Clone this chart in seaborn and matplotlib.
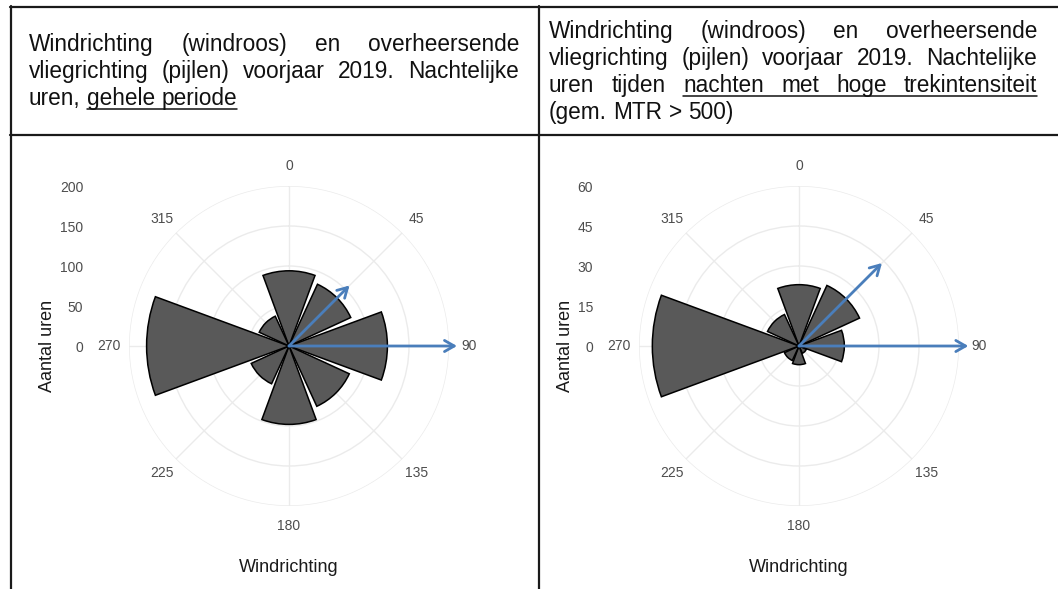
import numpy as np
import pandas as pd
import matplotlib
matplotlib.use("Agg")
import matplotlib.pyplot as plt
import seaborn as sns
from matplotlib.lines import Line2D

# ---------------- data ----------------
directions = [0, 45, 90, 135, 180, 225, 270, 315]
theta_labels = ["0", "45", "90", "135", "180", "225", "270", "315"]
uren_geheel = [94, 85, 123, 83, 98, 52, 178, 41]
uren_hoog = [23, 25, 17, 3, 7, 6, 55, 13]
pijl_richting = [45, 90]
pijl_lengte_geheel = [107, 210]
pijl_lengte_hoog = [44, 63.5]
r_ticks_geheel = [0, 50, 100, 150, 200]
r_ticks_hoog = [0, 15, 30, 45, 60]

kop_links = [
    (["Windrichting", "(windroos)", "en", "overheersende"], True, None),
    (["vliegrichting", "(pijlen)", "voorjaar", "2019.", "Nachtelijke"], True, None),
    (["uren,", "gehele", "periode"], False, (1, 2)),
]
kop_rechts = [
    (["Windrichting", "(windroos)", "en", "overheersende"], True, None),
    (["vliegrichting", "(pijlen)", "voorjaar", "2019.", "Nachtelijke"], True, None),
    (["uren", "tijden", "nachten", "met", "hoge", "trekintensiteit"], True, (2, 5)),
    (["(gem.", "MTR", ">", "500)"], False, None),
]
x_label = "Windrichting"
y_label = "Aantal uren"

# ---------------- style ----------------
sns.set_style("white")
plt.rcParams["font.family"] = ["Liberation Sans", "DejaVu Sans"]

W, H = 1058, 589
fig = plt.figure(figsize=(W / 100, H / 100), dpi=100)
fig.patch.set_facecolor("white")


def fx(x):
    return x / W


def fy(y):
    return (H - y) / H


BAR_COLOR = "#595959"
GRID_COLOR = "#ebebeb"
TICK_COLOR = "#4d4d4d"
ARROW_COLOR = "#4a7ebb"


def make_rose(cx, cy, values, rmax, rticks, arrow_len):
    R = 160
    rect = [fx(cx - R), fy(cy + R), 2 * R / W, 2 * R / H]
    ax = fig.add_axes(rect, projection="polar")
    ax.set_theta_zero_location("N")
    ax.set_theta_direction(-1)
    df = pd.DataFrame({"richting": np.deg2rad(directions), "uren": values})
    try:
        sns.barplot(data=df, x="richting", y="uren", native_scale=True, orient="x",
                    color=BAR_COLOR, saturation=1, edgecolor="black", linewidth=1.1,
                    width=0.9, errorbar=None, ax=ax, zorder=2)
    except Exception:
        ax.bar(df["richting"], df["uren"], width=np.deg2rad(45) * 0.9,
               color=BAR_COLOR, edgecolor="black", linewidth=1.1, zorder=2)
    ax.set_ylim(0, rmax)
    ax.set_xticks(np.deg2rad(directions))
    ax.set_xticklabels([])
    ax.set_yticks(rticks[1:])
    ax.set_yticklabels([])
    ax.grid(True, color=GRID_COLOR, lw=1)
    ax.set_axisbelow(True)
    ax.spines["polar"].set_visible(False)
    ax.set_xlabel("")
    ax.set_ylabel("")
    ax.tick_params(length=0)
    for d, lab in zip(directions, theta_labels):
        ax.text(np.deg2rad(d), rmax * 1.125, lab, ha="center", va="center",
                fontsize=10, color=TICK_COLOR, clip_on=False)
    for d, L in zip(pijl_richting, arrow_len):
        ax.annotate("", xy=(np.deg2rad(d), L), xytext=(0, 0),
                    arrowprops=dict(arrowstyle="->,head_length=0.7,head_width=0.4",
                                    color=ARROW_COLOR, lw=2, shrinkA=0, shrinkB=0),
                    annotation_clip=False, zorder=5)

    axc = fig.add_axes(rect, facecolor="none")
    axc.set_xlim(-rmax, rmax)
    axc.set_ylim(-rmax, rmax)
    axc.set_yticks(rticks)
    axc.set_yticklabels([str(t) for t in rticks])
    axc.set_xticks([])
    axc.tick_params(axis="y", length=0, pad=33, labelsize=10, labelcolor=TICK_COLOR)
    for s in axc.spines.values():
        s.set_visible(False)
    axc.set_ylabel(y_label, fontsize=13, labelpad=3, color="#1a1a1a")
    axc.set_xlabel(x_label, fontsize=13, labelpad=38, color="#1a1a1a")
    return ax


make_rose(289, 346, uren_geheel, 200, r_ticks_geheel, pijl_lengte_geheel)
make_rose(799, 346, uren_hoog, 60, r_ticks_hoog, pijl_lengte_hoog)

# ---------------- header text (justified) ----------------
renderer = fig.canvas.get_renderer()
FS = 16.3


def text_width(s):
    t = fig.text(0, 0, s, fontsize=FS)
    w = t.get_window_extent(renderer).width
    t.remove()
    return w


SPACE = text_width("n n") - text_width("nn")


def paragraph(x0, x1, baselines, lines):
    for (words, justify, ul), yb in zip(lines, baselines):
        ws = [text_width(w) for w in words]
        if justify and len(words) > 1:
            gap = (x1 - x0 - sum(ws)) / (len(words) - 1)
        else:
            gap = SPACE
        x = x0
        starts = []
        for w, wd in zip(words, ws):
            fig.text(fx(x), fy(yb), w, fontsize=FS, ha="left", va="baseline", color="#111111")
            starts.append(x)
            x += wd + gap
        if ul is not None:
            i, j = ul
            fig.add_artist(Line2D([fx(starts[i]), fx(starts[j] + ws[j])],
                                  [fy(yb + 3.5), fy(yb + 3.5)],
                                  transform=fig.transFigure, color="#111111", lw=1.1))


paragraph(29, 519, [51, 78, 105], kop_links)
paragraph(549, 1037, [38, 65, 92, 119], kop_rechts)

# ---------------- table borders ----------------
def hline(y, x0, x1):
    fig.add_artist(Line2D([fx(x0), fx(x1)], [fy(y), fy(y)], transform=fig.transFigure,
                          color="#1a1a1a", lw=1.6))


def vline(x, y0, y1):
    fig.add_artist(Line2D([fx(x), fx(x)], [fy(y0), fy(y1)], transform=fig.transFigure,
                          color="#1a1a1a", lw=1.6))


hline(7, 10, W)
hline(135, 10, W)
vline(11, 6, H)
vline(539, 6, H)

fig.savefig("out.png", dpi=100, facecolor="white")
